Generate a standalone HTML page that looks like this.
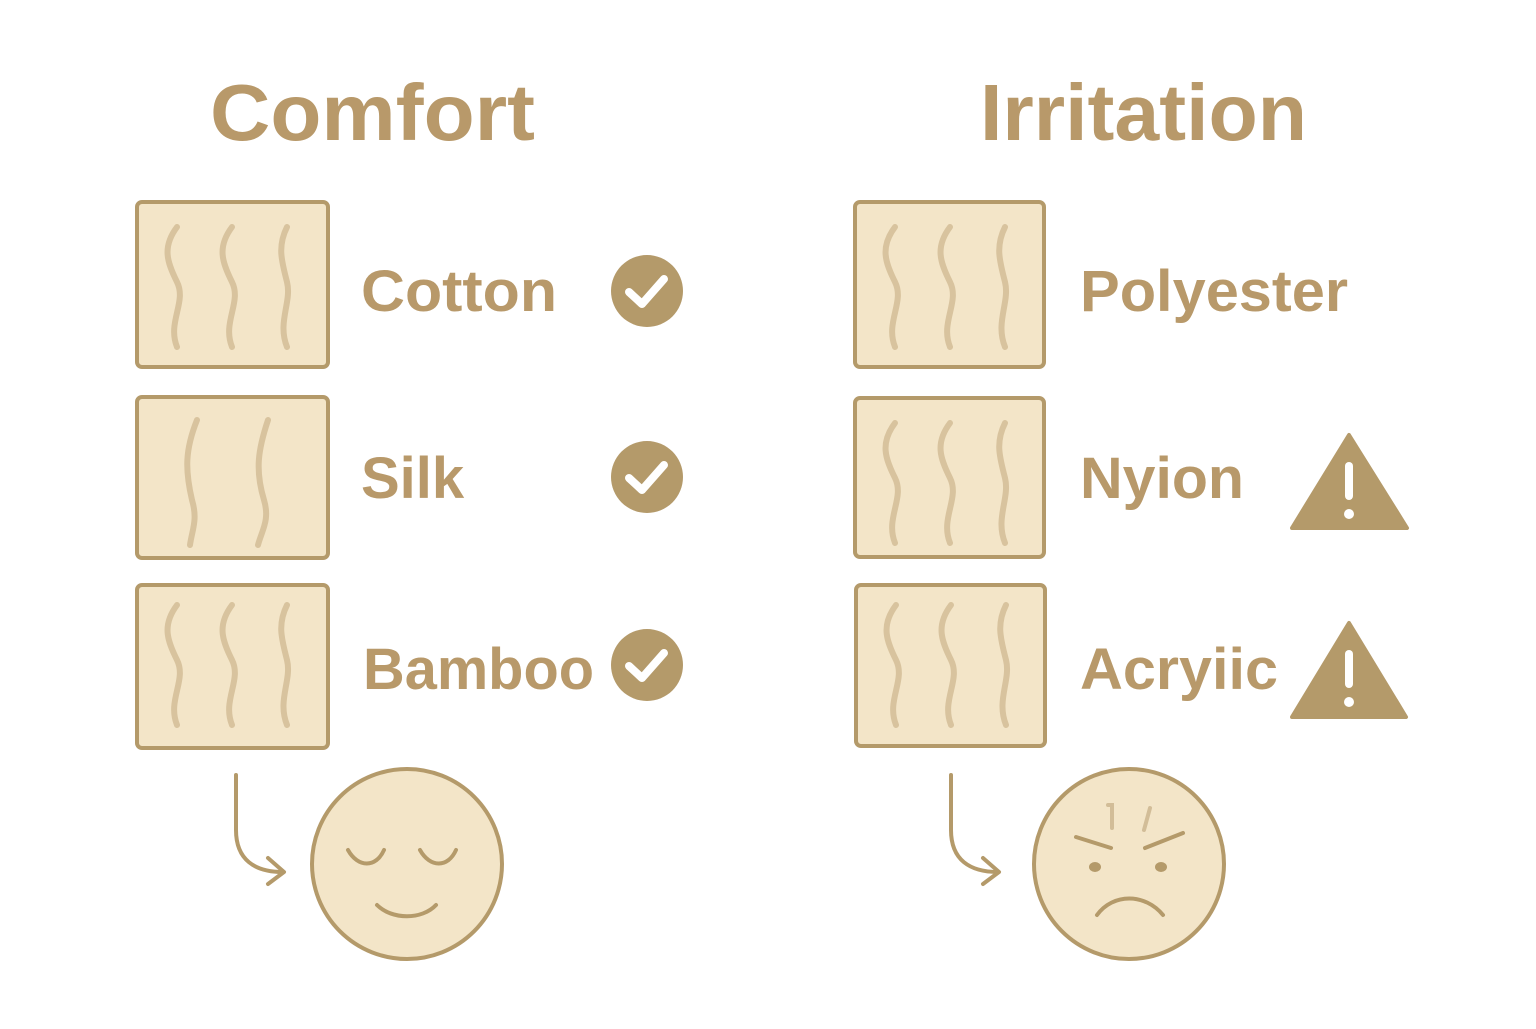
<!DOCTYPE html>
<html><head><meta charset="utf-8"><style>html,body{margin:0;padding:0;background:#fff}</style></head>
<body>
<svg width="1536" height="1024" viewBox="0 0 1536 1024" xmlns="http://www.w3.org/2000/svg">
<defs>
<g id="w3" fill="none" stroke="#d8c39e" stroke-width="6" stroke-linecap="round">
<path d="M40 25 C25 45 30 60 40 80 C50 100 30 120 40 145"/>
<path d="M95 25 C80 45 85 60 95 80 C105 100 85 120 95 145"/>
<path d="M150 25 C140 45 145 60 150 80 C155 100 140 120 150 145"/>
</g>
</defs>
<g font-family="Liberation Sans, sans-serif" font-weight="bold" fill="#b8996a">
<text x="210" y="140" font-size="80" textLength="325" lengthAdjust="spacingAndGlyphs">Comfort</text>
<text x="980" y="140" font-size="80" textLength="327" lengthAdjust="spacingAndGlyphs">Irritation</text>
<g font-size="58">
<text x="361" y="311" textLength="196" lengthAdjust="spacingAndGlyphs">Cotton</text>
<text x="361" y="498">Silk</text>
<text x="363" y="689" textLength="231" lengthAdjust="spacingAndGlyphs">Bamboo</text>
<text x="1080" y="311" textLength="268" lengthAdjust="spacingAndGlyphs">Polyester</text>
<text x="1080" y="498" textLength="164" lengthAdjust="spacingAndGlyphs">Nyion</text>
<text x="1080" y="689" textLength="198" lengthAdjust="spacingAndGlyphs">Acryiic</text>
</g>
</g>
<g fill="#f3e5c8" stroke="#b49a6a" stroke-width="4">
<rect x="137" y="202" width="191" height="165" rx="5"/>
<rect x="137" y="397" width="191" height="161" rx="5"/>
<rect x="137" y="585" width="191" height="163" rx="5"/>
<rect x="855" y="202" width="189" height="165" rx="5"/>
<rect x="855" y="398" width="189" height="159" rx="5"/>
<rect x="856" y="585" width="189" height="161" rx="5"/>
</g>
<use href="#w3" x="137" y="202"/>
<g fill="none" stroke="#d8c39e" stroke-width="6" stroke-linecap="round">
<path d="M197 420 C185 450 185 470 192 500 C198 520 192 530 190 545"/>
<path d="M268 420 C258 450 255 470 264 500 C270 520 262 530 258 545"/>
</g>
<use href="#w3" x="137" y="580"/>
<use href="#w3" x="855" y="202"/>
<use href="#w3" x="855" y="398"/>
<use href="#w3" x="856" y="580"/>
<g fill="#b49a6a">
<circle cx="647" cy="291" r="36"/><circle cx="647" cy="477" r="36"/><circle cx="647" cy="665" r="36"/>
<path d="M1349 435 L1407 528 L1292 528 Z" stroke="#b49a6a" stroke-width="4" stroke-linejoin="round"/>
<path d="M1349 623 L1406 717 L1292 717 Z" stroke="#b49a6a" stroke-width="4" stroke-linejoin="round"/>
</g>
<g fill="none" stroke="#fff" stroke-width="8" stroke-linecap="round" stroke-linejoin="round">
<path d="M629 292 L642 304 L664 279"/><path d="M629 478 L642 490 L664 465"/><path d="M629 666 L642 678 L664 653"/>
<path d="M1349 466 L1349 496"/><path d="M1349 654 L1349 684"/>
</g>
<g fill="#fff"><circle cx="1349" cy="514" r="5"/><circle cx="1349" cy="702" r="5"/></g>
<g fill="none" stroke="#b49a6a" stroke-width="4" stroke-linecap="round" stroke-linejoin="round">
<path d="M236 775 L236 830 C236 860 255 872 283 872"/><path d="M268 858 L284 872 L268 884"/>
<path d="M951 775 L951 830 C951 860 970 872 998 872"/><path d="M983 858 L999 872 L983 884"/>
</g>
<circle cx="407" cy="864" r="95" fill="#f3e5c8" stroke="#b49a6a" stroke-width="4"/>
<circle cx="1129" cy="864" r="95" fill="#f3e5c8" stroke="#b49a6a" stroke-width="4"/>
<g fill="none" stroke="#b49a6a" stroke-width="4" stroke-linecap="round">
<path d="M348 850 C358 868 376 868 384 850"/><path d="M420 850 C430 868 448 868 456 850"/>
<path d="M377 905 C392 920 422 920 436 905"/>
<path d="M1076 837 L1111 848"/><path d="M1145 848 L1183 833"/>
<path d="M1097 915 C1113 893 1145 893 1163 915"/>
</g>
<g fill="none" stroke="#d2bd98" stroke-width="4" stroke-linecap="round">
<path d="M1108 805 L1112 805 L1112 828"/><path d="M1150 808 L1144 830"/>
</g>
<g fill="#b49a6a"><ellipse cx="1095" cy="867" rx="6" ry="5"/><ellipse cx="1161" cy="867" rx="6" ry="5"/></g>
</svg>
</body></html>
